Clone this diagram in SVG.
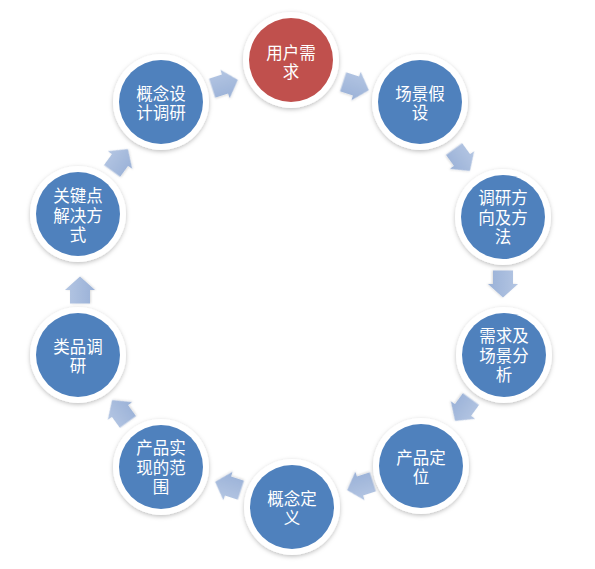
<svg xmlns="http://www.w3.org/2000/svg" width="595" height="569" viewBox="0 0 595 569">
<defs>
<filter id="sh" x="-20%" y="-20%" width="140%" height="140%">
<feDropShadow dx="0" dy="1.5" stdDeviation="2" flood-color="#000" flood-opacity="0.25"/>
</filter>
<filter id="ash" x="-30%" y="-30%" width="160%" height="160%">
<feDropShadow dx="0" dy="1" stdDeviation="1" flood-color="#000" flood-opacity="0.15"/>
</filter>
<linearGradient id="ag" x1="0" y1="0" x2="0" y2="1">
<stop offset="0" stop-color="#B4C6E3"/>
<stop offset="1" stop-color="#9AB1D7"/>
</linearGradient>
<path id="arr" d="M-13.5,-10 L0,-10 L0,-15 L13.5,0 L0,15 L0,10 L-13.5,10 Z"/>
</defs>
<style>
.ring{fill:#fff;filter:url(#sh)}
.blue{fill:#4F81BD}
.red{fill:#C0504D}
.t{fill:#fff;font-family:"Liberation Sans","Noto Sans CJK SC",sans-serif;font-size:16.5px;text-anchor:middle;dominant-baseline:central}
.a{fill:url(#ag);filter:url(#ash)}
</style>
<rect width="595" height="569" fill="#fff"/>
<g id="connectors">
<use href="#arr" class="a" transform="translate(225,84) rotate(-18)"/>
<use href="#arr" class="a" transform="translate(356,86) rotate(18)"/>
<use href="#arr" class="a" transform="translate(462,160) rotate(54)"/>
<use href="#arr" class="a" transform="translate(503,284) rotate(90)"/>
<use href="#arr" class="a" transform="translate(463,410) rotate(126)"/>
<use href="#arr" class="a" transform="translate(360,486) rotate(162)"/>
<use href="#arr" class="a" transform="translate(228,486) rotate(198)"/>
<use href="#arr" class="a" transform="translate(120,411) rotate(234)"/>
<use href="#arr" class="a" transform="translate(80,290) rotate(270)"/>
<use href="#arr" class="a" transform="translate(120,160) rotate(306)"/>
</g>
<g id="n1"><circle class="ring" cx="291" cy="60" r="48"/><circle class="red" cx="291" cy="60" r="42"/>
<text class="t" x="291" y="53">用户需<tspan x="291" dy="19">求</tspan></text></g>
<g id="n2"><circle class="ring" cx="420" cy="102" r="48"/><circle class="blue" cx="420" cy="102" r="42"/>
<text class="t" x="420" y="94">场景假<tspan x="420" dy="19">设</tspan></text></g>
<g id="n3"><circle class="ring" cx="503" cy="217" r="48"/><circle class="blue" cx="503" cy="217" r="42"/>
<text class="t" x="503" y="198">调研方<tspan x="503" dy="19.5">向及方</tspan><tspan x="503" dy="19.5">法</tspan></text></g>
<g id="n4"><circle class="ring" cx="504" cy="355" r="48"/><circle class="blue" cx="504" cy="355" r="42"/>
<text class="t" x="504" y="336">需求及<tspan x="504" dy="19.5">场景分</tspan><tspan x="504" dy="19.5">析</tspan></text></g>
<g id="n5"><circle class="ring" cx="421" cy="466" r="48"/><circle class="blue" cx="421" cy="466" r="42"/>
<text class="t" x="421" y="458">产品定<tspan x="421" dy="19">位</tspan></text></g>
<g id="n6"><circle class="ring" cx="292" cy="507" r="48"/><circle class="blue" cx="292" cy="507" r="42"/>
<text class="t" x="292" y="499">概念定<tspan x="292" dy="19">义</tspan></text></g>
<g id="n7"><circle class="ring" cx="161" cy="467" r="48"/><circle class="blue" cx="161" cy="467" r="42"/>
<text class="t" x="161" y="448">产品实<tspan x="161" dy="19.5">现的范</tspan><tspan x="161" dy="19.5">围</tspan></text></g>
<g id="n8"><circle class="ring" cx="78" cy="355" r="48"/><circle class="blue" cx="78" cy="355" r="42"/>
<text class="t" x="78" y="347">类品调<tspan x="78" dy="19">研</tspan></text></g>
<g id="n9"><circle class="ring" cx="78" cy="214" r="48"/><circle class="blue" cx="78" cy="214" r="42"/>
<text class="t" x="78" y="196">关键点<tspan x="78" dy="19.5">解决方</tspan><tspan x="78" dy="19.5">式</tspan></text></g>
<g id="n10"><circle class="ring" cx="161" cy="102" r="48"/><circle class="blue" cx="161" cy="102" r="42"/>
<text class="t" x="161" y="94">概念设<tspan x="161" dy="19">计调研</tspan></text></g>
</svg>
